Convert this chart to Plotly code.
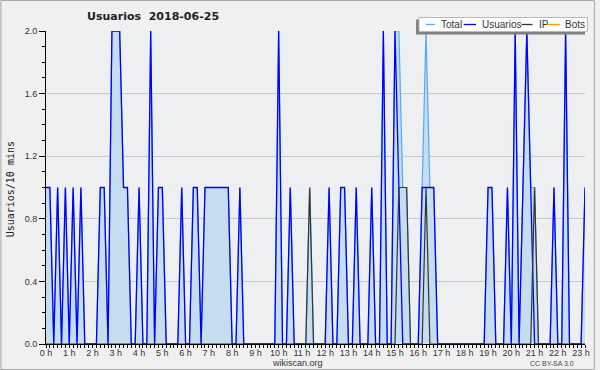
import plotly.graph_objects as go

# ---- data (10-minute bins, 0:00 .. 23:10) ----
usuarios = [1,1,0,1,0,1,0,1,0,1,
            0,0,0,0,1,1,0,2,2,2,
            1,1,0,0,1,0,0,2,0,1,
            1,0,0,0,0,1,0,0,1,1,
            0,1,1,1,1,1,1,1,0,0,
            1,0,0,0,0,0,0,0,0,0,
            2,0,0,1,0,0,0,0,0,0,
            0,0,0,1,0,0,1,1,0,0,
            1,0,0,0,1,0,0,2,0,0,
            2,1,0,0,0,0,0,1,1,1,
            1,0,0,0,0,0,0,0,0,0,
            0,0,0,0,1,1,0,0,0,1,
            0,2,0,1,2,1,0,0,0,0,
            0,1,0,0,2,0,0,0,0,1]
ip = [0]*140
for k in (68, 91, 92, 93, 98, 126):
    ip[k] = 1
bots = [0]*140
total = [u + p for u, p in zip(usuarios, ip)]
hours = [i/6 for i in range(len(usuarios))]
hour_ticks = list(range(24))
hour_labels = [f"{h} h" for h in hour_ticks]

title_text = "Usuarios  2018-06-25"
ytitle = "Usuarios/10 mins"
legend_names = ["Total", "Usuarios", "IP", "Bots"]
colors = {"Total": "#55AAF0", "Usuarios": "#0000FF", "IP": "#333333", "Bots": "#FF9900"}

# ---- geometry helpers ----
W, H = 600, 370
L, R, T, B = 46, 590, 31, 344
def px(x):
    return (x - L) / (R - L)
def py(y):
    return (B - y) / (B - T)

fig = go.Figure()
fig.add_trace(go.Scatter(x=hours, y=bots, mode="lines", line=dict(color=colors["Bots"], width=1),
                         showlegend=False, hoverinfo="skip"))
fig.add_trace(go.Scatter(x=hours, y=total, mode="lines", fill="tozeroy", fillcolor="#C6DDF0",
                         line=dict(color=colors["Total"], width=1.2), showlegend=False))
fig.add_trace(go.Scatter(x=hours, y=usuarios, mode="lines",
                         line=dict(color=colors["Usuarios"], width=1.3), showlegend=False))
fig.add_trace(go.Scatter(x=hours, y=ip, mode="lines",
                         line=dict(color=colors["IP"], width=1.2), showlegend=False))

fig.update_xaxes(range=[0, (len(usuarios)-1)/6], tickmode="array", tickvals=hour_ticks, ticktext=hour_labels,
                 ticks="outside", ticklen=3, tickcolor="black", tickwidth=1, ticklabelstandoff=-3,
                 showline=True, linecolor="black", linewidth=1, showgrid=False, zeroline=False,
                 minor=dict(ticks="outside", ticklen=3, tickcolor="black", tickmode="linear", tick0=0, dtick=1/6,
                            showgrid=False),
                 tickfont=dict(family="Liberation Sans", size=9, color="#333333"))
fig.update_yaxes(range=[0, 2], tickmode="linear", tick0=0, dtick=0.4, tickformat=".1f",
                 ticks="outside", ticklen=6, tickcolor="black",
                 showline=True, linecolor="black", linewidth=1, zeroline=False,
                 showgrid=True, gridcolor="#C8C8C8", gridwidth=1,
                 minor=dict(ticks="outside", ticklen=3, tickcolor="black", tickmode="linear", tick0=0, dtick=0.1,
                            showgrid=False),
                 tickfont=dict(family="Liberation Sans", size=9, color="#333333"))

shapes = []
annotations = []
# outer border
shapes.append(dict(type="rect", xref="paper", yref="paper", x0=px(0.5), x1=px(599.5), y0=py(0.5), y1=py(369.5),
                   line=dict(color="#A8A8A8", width=1), fillcolor="rgba(0,0,0,0)", layer="above"))
# legend shadow + box
shapes.append(dict(type="rect", xref="paper", yref="paper", x0=px(419.5), x1=px(590), y0=py(19.5), y1=py(34.5),
                   line=dict(width=0), fillcolor="#7F7F7F", layer="above"))
shapes.append(dict(type="rect", xref="paper", yref="paper", x0=px(422.5), x1=px(592.5), y0=py(17.5), y1=py(31.5),
                   line=dict(color="#BBBBBB", width=1), fillcolor="white", layer="above"))
leg_lines = [(429.5, 438.5), (467.5, 480), (526, 537), (552, 564.5)]
leg_text_x = [442.5, 484, 541.5, 568]
for name, (a, b), tx in zip(legend_names, leg_lines, leg_text_x):
    shapes.append(dict(type="line", xref="paper", yref="paper", x0=px(a), x1=px(b), y0=py(24.5), y1=py(24.5),
                       line=dict(color=colors[name], width=1.3), layer="above"))
    annotations.append(dict(text=name, xref="paper", yref="paper", x=px(tx), y=py(24.8), xanchor="left",
                            yanchor="middle", showarrow=False,
                            font=dict(family="Liberation Sans", size=10, color="#333333")))
# title
annotations.append(dict(text=f"<b>{title_text}</b>", xref="paper", yref="paper", x=px(85), y=py(16.5),
                        xanchor="left", yanchor="middle", showarrow=False,
                        font=dict(family="DejaVu Sans", size=11, color="#222222")))
# y title
annotations.append(dict(text=ytitle, xref="paper", yref="paper", x=px(10), y=py(189), textangle=-90,
                        xanchor="center", yanchor="middle", showarrow=False,
                        font=dict(family="DejaVu Sans Mono", size=10, color="#222222")))
# footer
annotations.append(dict(text="wikiscan.org", xref="paper", yref="paper", x=px(300), y=py(362.5),
                        xanchor="center", yanchor="middle", showarrow=False, borderpad=0,
                        font=dict(family="Liberation Sans", size=9, color="#333333")))
annotations.append(dict(text="CC BY-SA 3.0", xref="paper", yref="paper", x=px(580), y=py(363.5),
                        xanchor="right", yanchor="middle", showarrow=False, borderpad=0,
                        font=dict(family="Liberation Sans", size=7, color="#444444")))

fig.update_layout(width=W, height=H, margin=dict(l=L, r=W-R, t=T, b=H-B),
                  paper_bgcolor="#F0F0F0", plot_bgcolor="#EEEFF1",
                  showlegend=False, shapes=shapes, annotations=annotations)

fig.write_html("out.html", config={"displayModeBar": False},
               post_script="document.body.style.margin='0';document.body.style.overflow='hidden';")
